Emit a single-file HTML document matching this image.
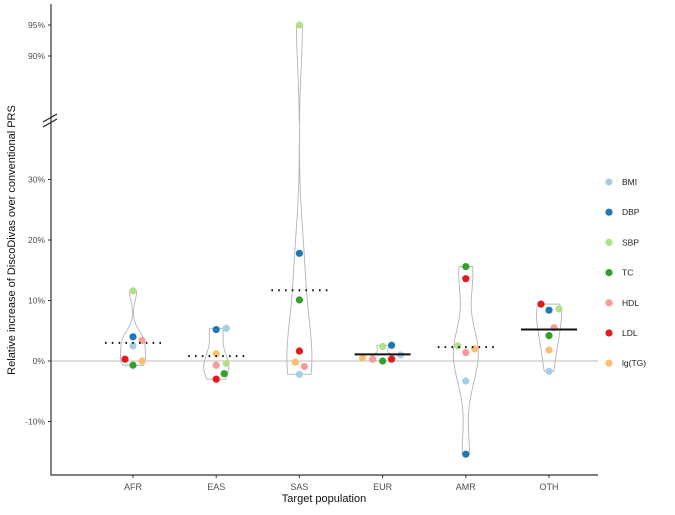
<!DOCTYPE html>
<html><head><meta charset="utf-8"><style>
body{margin:0;background:#fff;}
svg text{font-family:"Liberation Sans",sans-serif;}
</style></head><body>
<svg id="chart" width="675" height="510" viewBox="0 0 675 510" xmlns="http://www.w3.org/2000/svg"></svg>
<script>
const categories = ["AFR","EAS","SAS","EUR","AMR","OTH"];
const traits = ["BMI","DBP","SBP","TC","HDL","LDL","lg(TG)"];
const traitColors = ["#a6cee3","#1f78b4","#b2df8a","#33a02c","#fb9a99","#e31a1c","#fdbf6f"];
// values per category, in trait order BMI,DBP,SBP,TC,HDL,LDL,lg(TG)
const valuesAFR = [2.5, 4.0, 11.6, -0.7, 3.4, 0.3, 0.0];
const valuesEAS = [5.4, 5.2, -0.4, -2.1, -0.7, -3.0, 1.2];
const valuesSAS = [-2.2, 17.8, 95.0, 10.1, -0.9, 1.65, -0.2];
const valuesEUR = [1.0, 2.6, 2.4, 0.0, 0.3, 0.3, 0.5];
const valuesAMR = [-3.3, -15.4, 2.5, 15.6, 1.4, 13.6, 2.0];
const valuesOTH = [-1.7, 8.4, 8.6, 4.2, 5.5, 9.4, 1.8];
const medians = [3.0, 0.8, 11.7, 1.1, 2.3, 5.2];
const medianSolid = [false, false, false, true, false, true];
const yTickValues = [-10, 0, 10, 20, 30, 90, 95];
const yTickLabels = ["-10%","0%","10%","20%","30%","90%","95%"];
const allValues = [valuesAFR, valuesEAS, valuesSAS, valuesEUR, valuesAMR, valuesOTH];
// horizontal jitter offsets (visual placement only, in px)
const jitter = [[0,0,0,0,9,-8,9],[10,0,10,8,0,0,0],[0,0,0,0,5,0,-4],[18,9,0,0,-10,9,-20],[0,0,-8,0,0,0,9],[0,0,10,0,5,-8,0]];

const NS = "http://www.w3.org/2000/svg";
const svg = document.getElementById("chart");
function mk(tag, attrs, parent){const e=document.createElementNS(NS,tag);for(const k in attrs)e.setAttribute(k,attrs[k]);(parent||svg).appendChild(e);return e;}

const X0 = 51, X1 = 598, YB = 475;
function xScale(i){ return 133 + i*83.2; }
function yScale(v){
  if (v <= 39.5) return 361 - 6.05*v;
  if (v >= 79.4) return 56 - (v-90)*6.2;
  return 122; // compressed break region
}
function yScaleSmooth(v){
  if (v <= 39.5) return 361 - 6.05*v;
  if (v >= 79.4) return 56 - (v-90)*6.2;
  return 122;
}

// zero line
const zl = mk("line",{x1:X0,x2:X1,y1:yScale(0),y2:yScale(0),stroke:"#bdbdbd","stroke-width":1});



// violins
function nrd0(a){
  const n=a.length; const m=a.reduce((s,v)=>s+v,0)/n;
  const sd=Math.sqrt(a.reduce((s,v)=>s+(v-m)*(v-m),0)/(n-1));
  const s=[...a].sort((p,q)=>p-q);
  const q=(p)=>{const h=(n-1)*p;const lo=Math.floor(h);return s[lo]+(h-lo)*((s[Math.min(lo+1,n-1)])-s[lo]);};
  const iqr=q(0.75)-q(0.25);
  let lo=Math.min(sd,iqr/1.34); if(!(lo>0)) lo=sd||1;
  return 0.9*lo*Math.pow(n,-0.2);
}
allValues.forEach((vals,ci)=>{
  const bw=nrd0(vals); const mn=Math.min(...vals), mx=Math.max(...vals);
  const N=120; const pts=[]; let dmax=0;
  for(let k=0;k<=N;k++){
    const v=mn+(mx-mn)*k/N; let d=0;
    vals.forEach(x=>{const z=(v-x)/bw; d+=Math.exp(-0.5*z*z);});
    pts.push([v,d]); if(d>dmax)dmax=d;
  }
  const cx=xScale(ci), hw=12.5;
  let dStr="";
  pts.forEach((p,k)=>{dStr+=(k?"L":"M")+(cx+p[1]/dmax*hw).toFixed(2)+","+yScaleSmooth(p[0]).toFixed(2);});
  for(let k=pts.length-1;k>=0;k--){const p=pts[k];dStr+="L"+(cx-p[1]/dmax*hw).toFixed(2)+","+yScaleSmooth(p[0]).toFixed(2);}
  dStr+="Z";
  const path=mk("path",{d:dStr,fill:"none",stroke:"#b5b5b5","stroke-width":0.9});
  
  
});

// points
allValues.forEach((vals,ci)=>{
  vals.forEach((v,ti)=>{
    const c=mk("circle",{cx:xScale(ci)+jitter[ci][ti],cy:yScale(v),r:3.6,fill:traitColors[ti]});
    
    
  });
});

// medians
medians.forEach((m,ci)=>{
  const cx=xScale(ci);
  const attrs={x1:cx-28,x2:cx+28,y1:yScale(m),y2:yScale(m),stroke:"#111"};
  if(medianSolid[ci]){attrs["stroke-width"]=2;}
  else{attrs["stroke-width"]=2;attrs["stroke-dasharray"]="1.6,5.2";}
  const l=mk("line",attrs);
  
  
});

// axes
const ya=mk("line",{x1:X0,x2:X0,y1:4,y2:YB+0.5,stroke:"#333","stroke-width":1.2});


const xa=mk("line",{x1:X0,x2:X1,y1:YB,y2:YB,stroke:"#333","stroke-width":1.2});


const brk=mk("g",{});


mk("line",{x1:43,y1:122,x2:57,y2:114,stroke:"#222","stroke-width":1.2},brk);
mk("line",{x1:43,y1:127,x2:57,y2:119,stroke:"#222","stroke-width":1.2},brk);

yTickValues.forEach((v,i)=>{
  const y=yScale(v);
  const t=mk("line",{x1:X0-3,x2:X0,y1:y,y2:y,stroke:"#333","stroke-width":1});
  
  
  const tx=mk("text",{x:X0-6,y:y+3,"text-anchor":"end","font-size":"8.5",fill:"#4d4d4d"});
  tx.textContent=yTickLabels[i];
  
  
});
categories.forEach((c,i)=>{
  const x=xScale(i);
  const t=mk("line",{x1:x,x2:x,y1:YB,y2:YB+3,stroke:"#333","stroke-width":1});
  
  
  const tx=mk("text",{x:x,y:YB+15,"text-anchor":"middle","font-size":"9",fill:"#4d4d4d"});
  tx.textContent=c;
  
  
});
const xt=mk("text",{x:324,y:502,"text-anchor":"middle","font-size":"11",fill:"#111"});
xt.textContent="Target population";


const yt=mk("text",{x:0,y:0,"text-anchor":"middle","font-size":"11",fill:"#111",transform:"translate(15,240) rotate(-90)"});
yt.textContent="Relative increase of DiscoDivas over conventional PRS";



// legend
traits.forEach((tr,i)=>{
  const y=182+i*30.2;
  const g=mk("g",{});
  
  
  mk("circle",{cx:609,cy:y,r:3.6,fill:traitColors[i]},g);
  const tx=mk("text",{x:622,y:y+3,"font-size":"8.5",fill:"#222"},g);
  tx.textContent=tr;
});
</script>
</body></html>
